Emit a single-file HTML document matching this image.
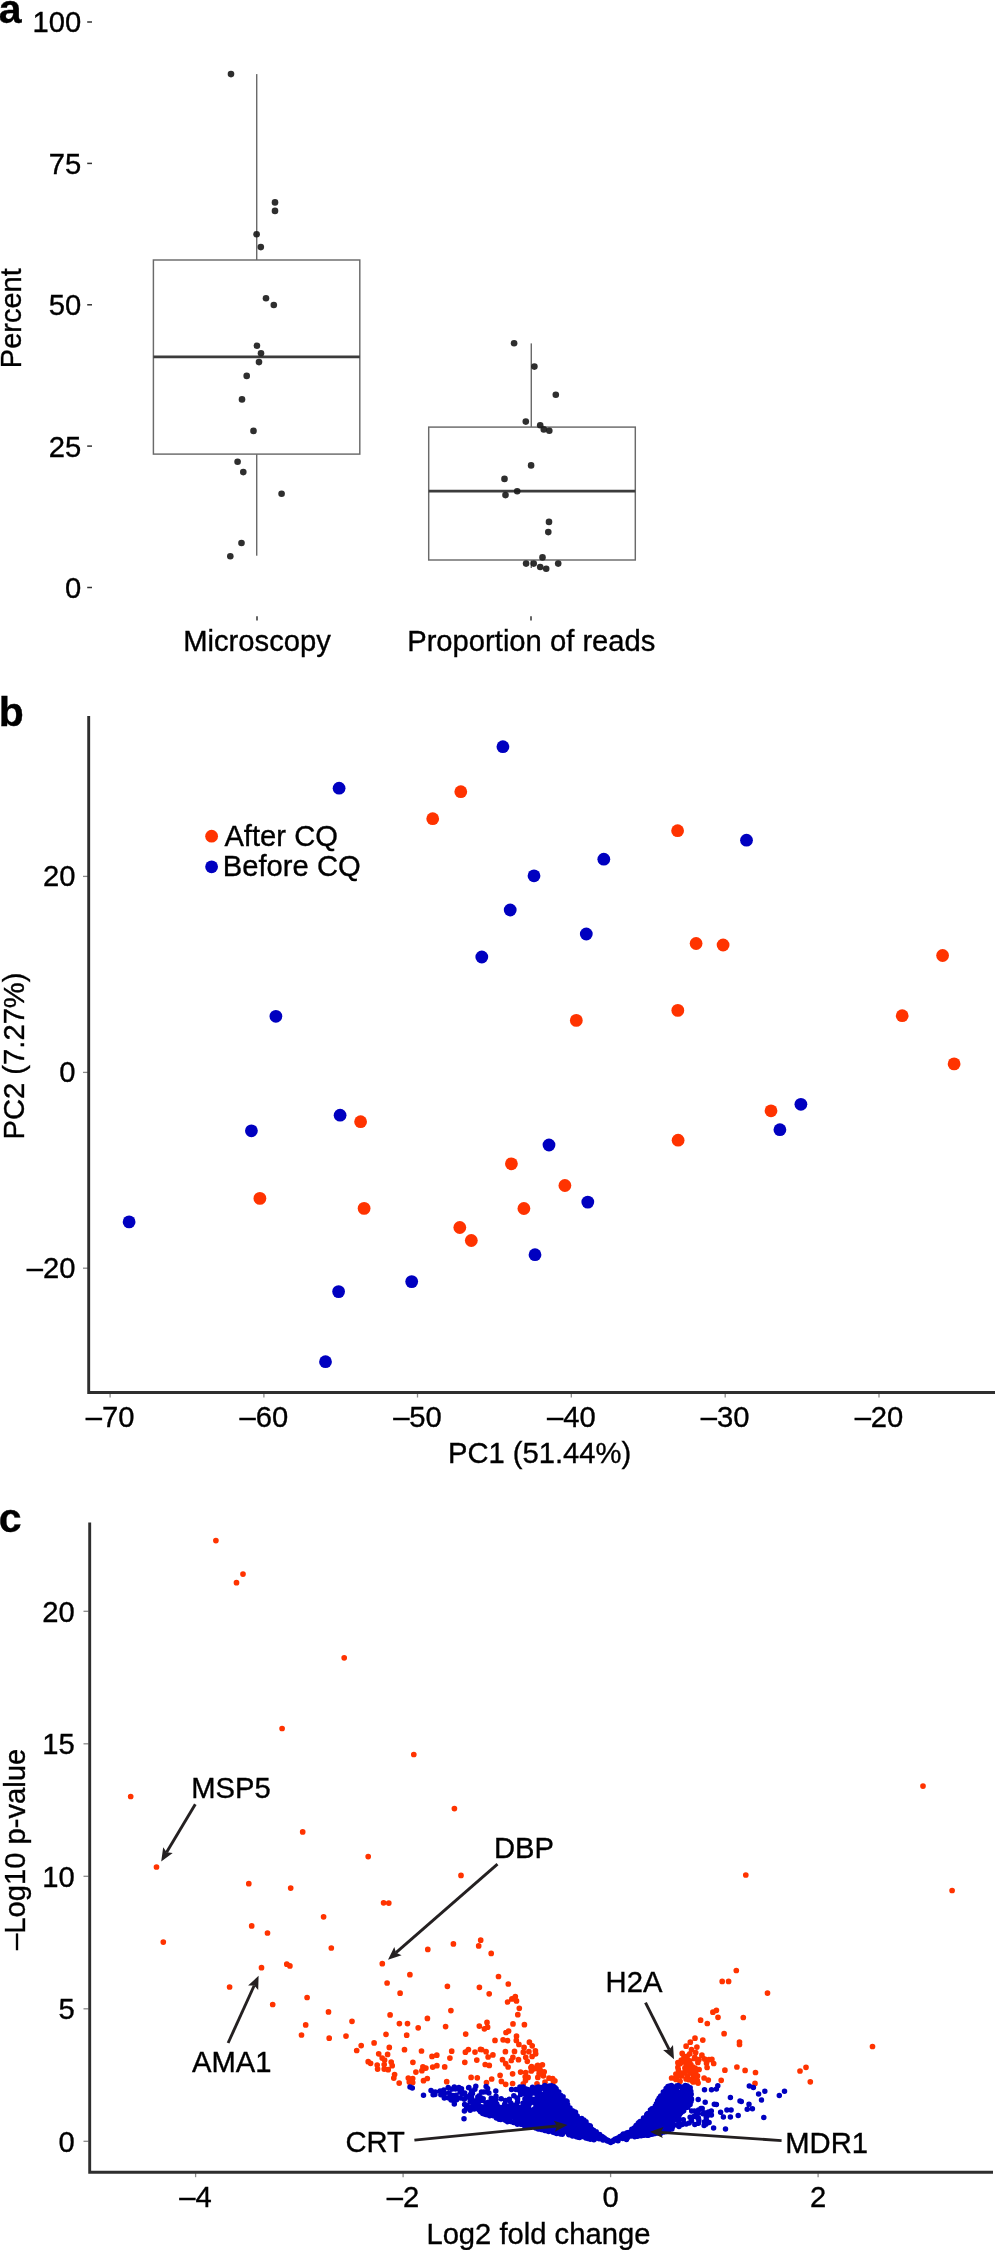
<!DOCTYPE html>
<html><head><meta charset="utf-8"><title>Figure</title>
<style>html,body{margin:0;padding:0;background:#fff}svg{display:block;will-change:transform}text{font-family:"Liberation Sans",sans-serif;fill:#000;stroke:#000;stroke-width:0.35px}</style>
</head><body>
<svg width="998" height="2250" viewBox="0 0 998 2250">
<rect width="998" height="2250" fill="#fff"/>
<text x="-1.3" y="22.9" font-size="41" font-weight="bold">a</text>
<text x="-1.3" y="726.1" font-size="41" font-weight="bold">b</text>
<text x="-1.3" y="1531.8" font-size="41" font-weight="bold">c</text>
<g id="panelA">
<line x1="87.2" x2="92" y1="22.0" y2="22.0" stroke="#333" stroke-width="1.5"/>
<text x="81.3" y="32.4" font-size="29.2" text-anchor="end">100</text>
<line x1="87.2" x2="92" y1="163.4" y2="163.4" stroke="#333" stroke-width="1.5"/>
<text x="81.3" y="173.8" font-size="29.2" text-anchor="end">75</text>
<line x1="87.2" x2="92" y1="304.8" y2="304.8" stroke="#333" stroke-width="1.5"/>
<text x="81.3" y="315.1" font-size="29.2" text-anchor="end">50</text>
<line x1="87.2" x2="92" y1="446.1" y2="446.1" stroke="#333" stroke-width="1.5"/>
<text x="81.3" y="456.5" font-size="29.2" text-anchor="end">25</text>
<line x1="87.2" x2="92" y1="587.5" y2="587.5" stroke="#333" stroke-width="1.5"/>
<text x="81.3" y="597.9" font-size="29.2" text-anchor="end">0</text>
<line x1="257" x2="257" y1="616.2" y2="620.4" stroke="#333" stroke-width="1.5"/>
<line x1="531" x2="531" y1="616.2" y2="620.4" stroke="#333" stroke-width="1.5"/>
<text x="257" y="651.3" font-size="29.2" text-anchor="middle">Microscopy</text>
<text x="531.3" y="651.3" font-size="29.2" text-anchor="middle">Proportion of reads</text>
<text x="21.2" y="318.2" font-size="29" text-anchor="middle" transform="rotate(-90 21.2 318.2)">Percent</text>
<line x1="256.7" x2="256.7" y1="74.1" y2="260" stroke="#6a6a6a" stroke-width="1.45"/>
<line x1="256.7" x2="256.7" y1="454.1" y2="555.7" stroke="#6a6a6a" stroke-width="1.45"/>
<rect x="153.4" y="260" width="206.4" height="194.1" fill="#fff" stroke="#6a6a6a" stroke-width="1.45"/>
<line x1="153.4" x2="359.8" y1="356.9" y2="356.9" stroke="#3c3c3c" stroke-width="2.8"/>
<line x1="531.3" x2="531.3" y1="343.4" y2="427.1" stroke="#6a6a6a" stroke-width="1.45"/>
<line x1="531.3" x2="531.3" y1="560" y2="568" stroke="#6a6a6a" stroke-width="1.45"/>
<rect x="428.7" y="427.1" width="206.6" height="132.9" fill="#fff" stroke="#6a6a6a" stroke-width="1.45"/>
<line x1="428.7" x2="635.3" y1="491.2" y2="491.2" stroke="#3c3c3c" stroke-width="2.8"/>
<g fill="#1c1c1c" fill-opacity="0.92">
<circle cx="231" cy="74.1" r="3.3"/>
<circle cx="275" cy="202.4" r="3.3"/>
<circle cx="275" cy="210.9" r="3.3"/>
<circle cx="256.6" cy="234.2" r="3.3"/>
<circle cx="260.8" cy="247.1" r="3.3"/>
<circle cx="266" cy="298.3" r="3.3"/>
<circle cx="273.8" cy="305" r="3.3"/>
<circle cx="256.9" cy="345.7" r="3.3"/>
<circle cx="261" cy="353.2" r="3.3"/>
<circle cx="259" cy="362.1" r="3.3"/>
<circle cx="246.7" cy="375.9" r="3.3"/>
<circle cx="242" cy="399.4" r="3.3"/>
<circle cx="253.5" cy="430.9" r="3.3"/>
<circle cx="237.6" cy="461.7" r="3.3"/>
<circle cx="243.3" cy="472.1" r="3.3"/>
<circle cx="281.6" cy="493.7" r="3.3"/>
<circle cx="241.5" cy="543" r="3.3"/>
<circle cx="230.3" cy="556.2" r="3.3"/>
<circle cx="514.1" cy="343.2" r="3.3"/>
<circle cx="534.4" cy="366.6" r="3.3"/>
<circle cx="555.8" cy="394.8" r="3.3"/>
<circle cx="525.8" cy="421.6" r="3.3"/>
<circle cx="540.2" cy="425.3" r="3.3"/>
<circle cx="543.8" cy="429.4" r="3.3"/>
<circle cx="549.3" cy="430.7" r="3.3"/>
<circle cx="531.1" cy="465.4" r="3.3"/>
<circle cx="504.5" cy="478.9" r="3.3"/>
<circle cx="517.2" cy="491.2" r="3.3"/>
<circle cx="505.5" cy="495.1" r="3.3"/>
<circle cx="549" cy="521.9" r="3.3"/>
<circle cx="548.3" cy="532.1" r="3.3"/>
<circle cx="542.5" cy="557.4" r="3.3"/>
<circle cx="526.1" cy="563.6" r="3.3"/>
<circle cx="533.7" cy="563.6" r="3.3"/>
<circle cx="540.2" cy="567" r="3.3"/>
<circle cx="546.2" cy="568.8" r="3.3"/>
<circle cx="558.2" cy="563.6" r="3.3"/>
</g>
</g>
<g id="panelB">
<line x1="83" x2="88" y1="876.4" y2="876.4" stroke="#8a8a8a" stroke-width="1.3"/>
<text x="75.4" y="885.7" font-size="29.2" text-anchor="end">20</text>
<line x1="83" x2="88" y1="1072.4" y2="1072.4" stroke="#8a8a8a" stroke-width="1.3"/>
<text x="75.4" y="1081.7" font-size="29.2" text-anchor="end">0</text>
<line x1="83" x2="88" y1="1268.2" y2="1268.2" stroke="#8a8a8a" stroke-width="1.3"/>
<text x="75.4" y="1277.5" font-size="29.2" text-anchor="end">–20</text>
<line x1="110.1" x2="110.1" y1="1393.5" y2="1397.5" stroke="#8a8a8a" stroke-width="1.3"/>
<text x="110.1" y="1426.5" font-size="29.2" text-anchor="middle">–70</text>
<line x1="263.9" x2="263.9" y1="1393.5" y2="1397.5" stroke="#8a8a8a" stroke-width="1.3"/>
<text x="263.9" y="1426.5" font-size="29.2" text-anchor="middle">–60</text>
<line x1="417.5" x2="417.5" y1="1393.5" y2="1397.5" stroke="#8a8a8a" stroke-width="1.3"/>
<text x="417.5" y="1426.5" font-size="29.2" text-anchor="middle">–50</text>
<line x1="571.3" x2="571.3" y1="1393.5" y2="1397.5" stroke="#8a8a8a" stroke-width="1.3"/>
<text x="571.3" y="1426.5" font-size="29.2" text-anchor="middle">–40</text>
<line x1="725.2" x2="725.2" y1="1393.5" y2="1397.5" stroke="#8a8a8a" stroke-width="1.3"/>
<text x="725.2" y="1426.5" font-size="29.2" text-anchor="middle">–30</text>
<line x1="879.0" x2="879.0" y1="1393.5" y2="1397.5" stroke="#8a8a8a" stroke-width="1.3"/>
<text x="879.0" y="1426.5" font-size="29.2" text-anchor="middle">–20</text>
<path d="M88.7 716V1392.5H995" fill="none" stroke="#2e2e2e" stroke-width="2.9"/>
<text x="539.6" y="1463.3" font-size="29.2" text-anchor="middle">PC1 (51.44%)</text>
<text x="23.5" y="1056" font-size="29.2" text-anchor="middle" transform="rotate(-90 23.5 1056)">PC2 (7.27%)</text>
<g fill="#0000c0">
<circle cx="502.9" cy="746.7" r="6.4"/>
<circle cx="339.1" cy="788.2" r="6.4"/>
<circle cx="534" cy="875.8" r="6.4"/>
<circle cx="510.2" cy="910" r="6.4"/>
<circle cx="481.8" cy="957" r="6.4"/>
<circle cx="275.9" cy="1016.3" r="6.4"/>
<circle cx="746.5" cy="840.2" r="6.4"/>
<circle cx="603.8" cy="859.2" r="6.4"/>
<circle cx="586.3" cy="934" r="6.4"/>
<circle cx="340.1" cy="1115.2" r="6.4"/>
<circle cx="251.4" cy="1130.8" r="6.4"/>
<circle cx="549" cy="1145" r="6.4"/>
<circle cx="129.1" cy="1221.9" r="6.4"/>
<circle cx="535" cy="1254.7" r="6.4"/>
<circle cx="411.7" cy="1281.6" r="6.4"/>
<circle cx="338.6" cy="1291.6" r="6.4"/>
<circle cx="325.5" cy="1361.7" r="6.4"/>
<circle cx="800.9" cy="1104.3" r="6.4"/>
<circle cx="779.9" cy="1129.7" r="6.4"/>
<circle cx="587.8" cy="1202.1" r="6.4"/>
<circle cx="211.6" cy="866.8" r="6.4"/>
</g>
<g fill="#ff3300">
<circle cx="460.8" cy="791.7" r="6.4"/>
<circle cx="432.7" cy="818.7" r="6.4"/>
<circle cx="677.6" cy="830.7" r="6.4"/>
<circle cx="696.1" cy="943.5" r="6.4"/>
<circle cx="723.1" cy="945" r="6.4"/>
<circle cx="942.6" cy="955.5" r="6.4"/>
<circle cx="576.3" cy="1020.4" r="6.4"/>
<circle cx="677.8" cy="1010.4" r="6.4"/>
<circle cx="902.2" cy="1015.7" r="6.4"/>
<circle cx="360.6" cy="1121.7" r="6.4"/>
<circle cx="511.4" cy="1163.8" r="6.4"/>
<circle cx="564.9" cy="1185.5" r="6.4"/>
<circle cx="259.9" cy="1198.4" r="6.4"/>
<circle cx="364.1" cy="1208.4" r="6.4"/>
<circle cx="523.9" cy="1208.5" r="6.4"/>
<circle cx="459.8" cy="1227.5" r="6.4"/>
<circle cx="471.3" cy="1240.5" r="6.4"/>
<circle cx="954.1" cy="1063.9" r="6.4"/>
<circle cx="771" cy="1110.8" r="6.4"/>
<circle cx="678.1" cy="1140.2" r="6.4"/>
<circle cx="211.6" cy="836.2" r="6.4"/>
</g>
<text x="224.4" y="845.6" font-size="29.2">After CQ</text>
<text x="222.8" y="876.2" font-size="29.2">Before CQ</text>
</g>
<g id="panelC">
<line x1="83.5" x2="88.5" y1="1611.3" y2="1611.3" stroke="#8a8a8a" stroke-width="1.3"/>
<text x="74.8" y="1621.7" font-size="29.2" text-anchor="end">20</text>
<line x1="83.5" x2="88.5" y1="1743.8" y2="1743.8" stroke="#8a8a8a" stroke-width="1.3"/>
<text x="74.8" y="1754.2" font-size="29.2" text-anchor="end">15</text>
<line x1="83.5" x2="88.5" y1="1876.3" y2="1876.3" stroke="#8a8a8a" stroke-width="1.3"/>
<text x="74.8" y="1886.7" font-size="29.2" text-anchor="end">10</text>
<line x1="83.5" x2="88.5" y1="2008.8" y2="2008.8" stroke="#8a8a8a" stroke-width="1.3"/>
<text x="74.8" y="2019.2" font-size="29.2" text-anchor="end">5</text>
<line x1="83.5" x2="88.5" y1="2141.3" y2="2141.3" stroke="#8a8a8a" stroke-width="1.3"/>
<text x="74.8" y="2151.7" font-size="29.2" text-anchor="end">0</text>
<line x1="195.6" x2="195.6" y1="2173.2" y2="2177.2" stroke="#8a8a8a" stroke-width="1.3"/>
<text x="195.6" y="2207.2" font-size="29.2" text-anchor="middle">–4</text>
<line x1="403.1" x2="403.1" y1="2173.2" y2="2177.2" stroke="#8a8a8a" stroke-width="1.3"/>
<text x="403.1" y="2207.2" font-size="29.2" text-anchor="middle">–2</text>
<line x1="610.6" x2="610.6" y1="2173.2" y2="2177.2" stroke="#8a8a8a" stroke-width="1.3"/>
<text x="610.6" y="2207.2" font-size="29.2" text-anchor="middle">0</text>
<line x1="818.1" x2="818.1" y1="2173.2" y2="2177.2" stroke="#8a8a8a" stroke-width="1.3"/>
<text x="818.1" y="2207.2" font-size="29.2" text-anchor="middle">2</text>
<text x="538.4" y="2244.2" font-size="29.2" text-anchor="middle">Log2 fold change</text>
<text x="25" y="1849.4" font-size="29.2" text-anchor="middle" transform="rotate(-90 25 1849.4)">–Log10 p-value</text>
<path d="M215.9 1540.6h0M243.0 1574.1h0M236.5 1582.7h0M344.2 1657.8h0M282.1 1728.5h0M413.8 1754.5h0M130.7 1796.5h0M454.4 1808.6h0M302.7 1831.9h0M368.2 1856.6h0M156.5 1867.0h0M461.0 1875.4h0M248.8 1883.7h0M290.7 1888.1h0M923.0 1786.1h0M745.8 1875.0h0M952.1 1890.5h0M383.6 1902.8h0M388.8 1903.1h0M323.6 1916.8h0M251.7 1925.9h0M267.5 1933.0h0M163.3 1942.1h0M331.3 1948.0h0M427.8 1949.4h0M382.3 1963.7h0M286.8 1964.2h0M289.9 1965.9h0M261.5 1967.7h0M409.9 1974.7h0M387.1 1983.0h0M229.6 1987.0h0M400.1 1993.2h0M307.1 1997.5h0M272.7 2004.5h0M328.5 2011.9h0M390.1 2014.9h0M427.4 2018.4h0M352.0 2021.3h0M399.4 2023.6h0M407.5 2023.6h0M305.7 2024.9h0M418.2 2027.8h0M386.0 2034.3h0M406.7 2035.2h0M301.5 2035.0h0M346.0 2036.1h0M329.2 2038.2h0M374.1 2042.9h0M361.2 2045.6h0M389.3 2047.4h0M356.7 2050.5h0M404.5 2049.7h0M421.5 2051.0h0M378.7 2053.8h0M387.6 2054.4h0M432.0 2056.4h0M436.8 2055.2h0M480.7 1940.2h0M478.7 1945.9h0M453.4 1943.9h0M491.2 1953.4h0M498.5 1976.5h0M508.3 1984.0h0M447.4 1986.3h0M479.4 1987.3h0M489.2 1993.8h0M515.3 1996.5h0M511.9 1998.9h0M507.6 2002.0h0M516.5 2000.9h0M519.3 2008.3h0M450.9 2010.6h0M517.8 2014.7h0M487.0 2022.4h0M479.3 2026.1h0M513.0 2023.9h0M524.4 2024.7h0M445.6 2026.6h0M484.4 2028.8h0M487.6 2027.2h0M506.0 2032.5h0M508.6 2031.2h0M465.7 2034.1h0M516.5 2036.2h0M495.0 2040.4h0M503.1 2039.8h0M507.6 2040.6h0M516.3 2040.4h0M529.4 2042.2h0M518.9 2044.4h0M532.2 2045.8h0M524.1 2047.4h0M451.7 2051.2h0M468.4 2049.6h0M465.4 2052.2h0M475.0 2052.1h0M480.5 2049.4h0M449.9 2058.1h0M476.8 2060.1h0M382.2 2058.1h0M384.6 2060.1h0M368.2 2061.7h0M370.6 2063.3h0M391.2 2062.1h0M412.9 2062.3h0M464.8 2062.3h0M377.2 2065.1h0M384.2 2064.5h0M392.2 2065.7h0M436.9 2065.7h0M432.7 2067.1h0M444.7 2066.9h0M422.9 2066.9h0M425.9 2068.1h0M377.6 2069.1h0M384.2 2069.1h0M388.2 2069.7h0M421.9 2070.7h0M415.9 2072.1h0M394.6 2074.5h0M393.8 2078.1h0M408.3 2078.1h0M412.7 2078.5h0M427.3 2078.5h0M423.5 2080.7h0M471.1 2077.4h0M477.3 2077.8h0M399.2 2083.1h0M409.3 2082.1h0M412.7 2082.5h0M446.7 2081.7h0M486.1 2051.7h0M505.4 2051.7h0M514.5 2051.4h0M523.3 2052.2h0M528.9 2051.7h0M535.4 2050.9h0M492.9 2054.9h0M488.1 2057.0h0M535.7 2053.8h0M532.1 2056.5h0M525.7 2057.3h0M512.9 2057.3h0M511.3 2060.5h0M518.5 2059.7h0M527.3 2061.3h0M502.5 2059.7h0M505.7 2063.7h0M508.1 2067.0h0M485.2 2064.5h0M489.3 2065.4h0M537.8 2065.4h0M534.5 2068.6h0M531.3 2071.0h0M520.6 2072.1h0M525.7 2072.6h0M540.2 2070.2h0M544.2 2071.8h0M512.6 2073.8h0M500.1 2075.3h0M528.1 2077.4h0M537.8 2077.4h0M543.4 2075.8h0M549.0 2078.2h0M552.7 2078.5h0M491.7 2079.0h0M486.5 2082.5h0M501.4 2081.4h0M505.7 2084.3h0M512.6 2083.5h0M523.3 2083.8h0M537.0 2083.8h0M545.0 2082.2h0M481.6 2049.6h0M736.3 1970.5h0M722.2 1981.4h0M728.6 1981.4h0M767.5 1993.1h0M716.4 2010.3h0M712.9 2012.2h0M718.0 2017.3h0M743.3 2017.5h0M700.6 2020.2h0M707.3 2023.5h0M724.1 2033.7h0M695.0 2038.2h0M702.8 2040.1h0M739.5 2042.0h0M739.5 2044.5h0M872.5 2046.5h0M806.0 2067.3h0M800.0 2071.0h0M810.3 2081.8h0M736.9 2067.0h0M745.1 2070.4h0M724.9 2070.2h0M755.5 2072.5h0M755.0 2083.4h0M721.2 2080.3h0M690.3 2042.2h0M686.1 2046.2h0M696.9 2047.1h0M691.5 2049.5h0M682.2 2053.4h0M695.7 2052.5h0M701.9 2055.2h0M687.3 2056.1h0M694.5 2058.5h0M704.7 2059.1h0M708.9 2059.7h0M711.9 2059.4h0M677.9 2062.7h0M682.5 2061.5h0M689.7 2060.9h0M686.1 2063.9h0M690.9 2064.5h0M706.5 2063.3h0M713.7 2063.5h0M707.1 2067.5h0M695.1 2068.1h0M678.3 2069.3h0M684.9 2068.1h0M688.5 2069.3h0M678.9 2072.9h0M683.7 2072.9h0M690.9 2072.9h0M695.7 2072.3h0M681.3 2075.9h0M687.3 2075.9h0M693.3 2076.5h0M697.5 2075.9h0M671.6 2078.0h0M675.9 2079.5h0M680.1 2081.3h0M686.1 2078.9h0M691.5 2079.5h0M696.3 2080.1h0M704.1 2078.0h0M708.3 2080.1h0M698.1 2083.1h0M693.3 2081.9h0M553.4 2081.5h0M542.4 2064.8h0M538.5 2069.2h0M532.7 2069.2h0M537.3 2065.7h0M531.5 2069.8h0M525.2 2076.8h0M554.9 2080.8h0M539.1 2073.7h0M531.6 2066.6h0M525.5 2080.4h0M530.9 2067.6h0M685.4 2071.4h0M677.9 2067.4h0M694.8 2057.3h0M685.8 2063.2h0M699.0 2059.6h0M693.1 2067.1h0M695.1 2079.4h0M689.8 2053.8h0M680.3 2063.6h0M676.8 2077.8h0M692.7 2068.1h0M699.1 2069.5h0M675.9 2074.0h0M681.3 2060.1h0M693.9 2074.3h0M684.0 2057.2h0M697.9 2062.4h0M692.3 2081.0h0M697.3 2080.7h0M676.7 2074.8h0M681.5 2073.2h0M686.6 2060.4h0M685.5 2068.8h0M686.0 2066.7h0M688.4 2079.6h0" fill="none" stroke="#ff3300" stroke-width="5.7" stroke-linecap="round"/>
<path d="M749.3 2086.1h0M753.4 2087.4h0M764.8 2091.2h0M758.6 2094.1h0M784.5 2091.2h0M779.3 2095.4h0M761.5 2100.0h0M741.3 2101.6h0M749.0 2104.2h0M747.2 2109.3h0M752.4 2108.8h0M763.8 2117.4h0M412.3 2088.1h0M410.0 2087.0h0M423.5 2095.3h0M464.0 2118.8h0M513.9 2114.2h0M555.2 2087.8h0M541.1 2094.3h0M525.3 2088.8h0M523.6 2121.8h0M549.6 2111.4h0M581.8 2125.6h0M471.1 2101.8h0M568.4 2108.1h0M450.9 2099.4h0M489.1 2102.2h0M538.9 2109.3h0M537.6 2102.1h0M584.0 2120.3h0M496.4 2117.9h0M554.8 2118.6h0M544.8 2112.8h0M563.1 2125.4h0M572.8 2134.4h0M561.5 2107.5h0M534.8 2110.4h0M549.2 2110.5h0M595.2 2135.4h0M535.2 2103.4h0M583.4 2125.8h0M542.9 2113.5h0M511.5 2089.6h0M558.0 2117.8h0M472.5 2093.4h0M543.6 2110.8h0M548.3 2131.3h0M553.6 2096.7h0M555.9 2115.0h0M566.6 2107.8h0M513.6 2122.4h0M560.4 2131.9h0M559.6 2097.5h0M607.3 2140.9h0M594.5 2134.0h0M560.7 2133.1h0M545.3 2115.1h0M582.7 2136.5h0M524.5 2117.9h0M526.7 2114.0h0M523.1 2108.2h0M531.5 2113.3h0M577.4 2136.6h0M508.7 2106.7h0M525.5 2094.5h0M544.0 2121.7h0M583.8 2120.1h0M576.4 2136.7h0M553.7 2086.4h0M520.7 2124.3h0M442.3 2091.4h0M529.5 2114.6h0M488.8 2111.9h0M507.5 2119.5h0M556.6 2133.4h0M574.8 2125.4h0M543.6 2108.4h0M570.5 2131.7h0M592.0 2135.4h0M568.6 2128.9h0M491.5 2112.0h0M550.3 2104.6h0M532.8 2115.7h0M556.6 2128.7h0M563.4 2100.0h0M529.2 2114.2h0M505.8 2115.3h0M577.6 2119.7h0M542.7 2111.3h0M550.6 2111.3h0M535.1 2109.2h0M571.7 2120.9h0M531.9 2119.0h0M595.5 2135.3h0M506.6 2120.8h0M527.7 2089.5h0M552.1 2116.7h0M497.2 2112.6h0M542.6 2129.1h0M517.4 2124.3h0M560.9 2124.8h0M599.9 2137.3h0M495.1 2106.2h0M501.2 2107.4h0M528.2 2117.6h0M547.6 2131.1h0M547.2 2099.3h0M568.3 2115.0h0M551.4 2113.4h0M560.2 2125.6h0M575.6 2132.8h0M524.5 2125.7h0M505.9 2109.3h0M537.3 2098.1h0M517.0 2098.0h0M499.3 2115.4h0M548.7 2098.9h0M558.8 2119.8h0M582.9 2132.1h0M486.0 2103.1h0M579.9 2122.5h0M527.4 2102.3h0M531.5 2126.5h0M557.9 2095.6h0M581.2 2119.1h0M470.6 2094.3h0M506.9 2114.5h0M568.5 2132.0h0M489.6 2108.8h0M549.2 2120.0h0M579.1 2120.1h0M559.2 2132.9h0M534.0 2125.0h0M528.0 2117.2h0M528.8 2089.7h0M563.2 2107.1h0M538.3 2112.1h0M542.6 2124.6h0M565.8 2113.0h0M581.5 2134.0h0M524.9 2115.2h0M537.8 2128.1h0M537.1 2089.4h0M510.5 2113.9h0M524.9 2099.0h0M501.2 2098.8h0M587.2 2125.9h0M550.0 2130.3h0M536.4 2098.4h0M509.3 2115.4h0M571.5 2114.8h0M582.8 2124.3h0M569.7 2130.1h0M559.1 2117.9h0M462.1 2094.0h0M519.4 2110.1h0M532.6 2116.3h0M542.1 2115.2h0M554.7 2132.6h0M483.5 2109.5h0M567.9 2127.1h0M547.3 2088.7h0M529.1 2094.7h0M466.6 2107.2h0M554.8 2106.0h0M559.2 2100.7h0M537.4 2087.2h0M506.4 2116.3h0M557.6 2100.2h0M550.3 2093.8h0M468.6 2087.7h0M543.8 2117.5h0M489.0 2113.6h0M556.7 2116.8h0M535.7 2112.0h0M569.4 2121.0h0M504.0 2109.0h0M579.9 2135.4h0M552.8 2098.7h0M528.1 2107.8h0M519.0 2122.3h0M542.7 2117.3h0M555.6 2124.4h0M542.2 2113.3h0M526.3 2098.9h0M452.3 2089.0h0M569.5 2112.7h0M586.6 2134.8h0M559.3 2099.7h0M582.3 2132.5h0M471.4 2095.9h0M554.2 2109.2h0M558.8 2092.1h0M517.1 2106.6h0M574.6 2133.0h0M456.1 2095.3h0M495.8 2100.1h0M548.6 2120.8h0M599.7 2134.5h0M560.9 2095.4h0M460.1 2092.1h0M485.7 2114.6h0M576.4 2130.4h0M579.6 2129.0h0M548.6 2131.5h0M545.2 2105.5h0M564.2 2116.4h0M493.0 2109.9h0M520.6 2108.3h0M590.4 2134.0h0M521.0 2117.6h0M581.3 2124.6h0M550.1 2109.2h0M533.3 2114.7h0M543.2 2110.8h0M579.8 2130.7h0M587.2 2125.8h0M572.2 2113.3h0M574.5 2134.0h0M495.8 2091.1h0M588.4 2126.7h0M550.7 2109.9h0M555.5 2095.7h0M555.3 2111.9h0M540.1 2105.7h0M563.0 2105.9h0M503.7 2111.3h0M557.1 2098.8h0M552.2 2111.2h0M538.5 2110.9h0M555.5 2123.6h0M578.3 2133.7h0M550.8 2104.9h0M544.3 2112.0h0M547.3 2125.2h0M542.5 2127.5h0M576.6 2126.9h0M600.7 2136.3h0M493.2 2115.8h0M474.2 2108.9h0M524.7 2108.5h0M577.9 2127.1h0M489.1 2113.2h0M590.3 2139.2h0M528.8 2108.1h0M486.5 2112.9h0M565.4 2113.1h0M537.9 2106.4h0M539.9 2118.9h0M572.4 2121.9h0M542.8 2116.8h0M566.0 2118.3h0M563.1 2109.2h0M498.0 2110.8h0M550.3 2116.5h0M554.5 2107.4h0M535.3 2112.7h0M533.7 2100.0h0M559.4 2110.0h0M556.1 2117.7h0M568.1 2131.2h0M559.8 2101.9h0M561.3 2100.4h0M475.5 2102.0h0M478.9 2101.6h0M526.4 2122.9h0M521.2 2117.5h0M548.6 2089.5h0M584.6 2130.0h0M493.7 2113.7h0M557.3 2109.1h0M531.3 2093.1h0M601.7 2138.0h0M518.3 2118.9h0M540.6 2120.2h0M554.3 2114.9h0M566.8 2131.3h0M551.7 2130.3h0M563.9 2112.4h0M603.6 2138.3h0M589.5 2126.7h0M511.8 2106.5h0M527.5 2117.6h0M444.3 2098.1h0M567.8 2108.2h0M574.4 2113.8h0M513.8 2095.8h0M542.6 2103.4h0M505.1 2116.1h0M584.1 2135.5h0M522.7 2106.9h0M544.1 2111.7h0M519.7 2112.8h0M518.3 2112.8h0M580.7 2131.0h0M574.1 2125.8h0M568.9 2130.0h0M545.4 2113.3h0M548.0 2129.4h0M523.0 2103.3h0M526.6 2112.3h0M473.3 2104.0h0M545.5 2108.9h0M553.8 2128.7h0M561.3 2103.5h0M546.9 2125.5h0M555.4 2110.3h0M553.0 2120.4h0M558.3 2092.7h0M500.4 2112.0h0M517.7 2118.8h0M521.7 2108.7h0M573.0 2125.6h0M495.8 2110.2h0M563.8 2102.2h0M550.8 2110.1h0M536.5 2125.8h0M564.9 2118.3h0M557.4 2117.3h0M525.3 2113.5h0M549.8 2101.8h0M554.9 2124.6h0M548.7 2093.8h0M587.7 2138.4h0M461.8 2092.1h0M573.5 2127.4h0M557.0 2125.1h0M576.8 2117.8h0M491.4 2110.4h0M579.6 2137.4h0M528.0 2118.5h0M555.6 2103.7h0M482.5 2100.2h0M514.5 2114.5h0M590.3 2128.2h0M549.1 2124.7h0M504.4 2107.6h0M514.5 2115.4h0M572.5 2136.1h0M542.0 2101.6h0M587.0 2132.9h0M554.9 2127.7h0M528.0 2114.6h0M567.7 2119.0h0M544.0 2086.4h0M548.6 2097.6h0M567.6 2104.4h0M560.8 2128.5h0M455.0 2096.9h0M551.8 2089.1h0M550.9 2121.1h0M559.6 2113.4h0M518.7 2107.2h0M496.8 2104.1h0M531.9 2099.0h0M582.5 2120.6h0M567.5 2126.4h0M458.9 2087.5h0M545.6 2094.9h0M526.6 2106.7h0M532.5 2114.3h0M464.6 2104.5h0M557.9 2106.5h0M571.7 2125.1h0M581.7 2122.7h0M560.5 2134.1h0M541.3 2094.6h0M533.3 2123.7h0M440.1 2091.0h0M553.5 2116.5h0M434.9 2094.6h0M530.0 2118.5h0M544.2 2112.0h0M521.9 2114.4h0M517.2 2108.0h0M538.7 2128.8h0M551.9 2097.5h0M593.3 2130.6h0M567.2 2104.5h0M555.8 2126.7h0M537.9 2120.2h0M574.5 2123.8h0M475.0 2103.3h0M484.4 2106.9h0M493.5 2112.3h0M482.2 2109.5h0M538.0 2103.5h0M546.6 2112.3h0M550.9 2094.4h0M554.4 2117.8h0M509.1 2111.8h0M568.9 2119.0h0M504.4 2115.0h0M526.1 2118.4h0M566.6 2131.9h0M560.0 2129.5h0M512.3 2112.0h0M558.5 2103.9h0M461.5 2091.4h0M560.8 2130.3h0M563.1 2102.6h0M603.4 2138.7h0M552.9 2097.0h0M491.2 2098.3h0M528.5 2108.1h0M490.4 2113.3h0M483.5 2091.9h0M494.8 2110.6h0M530.4 2113.4h0M565.7 2114.0h0M581.0 2136.2h0M551.7 2111.6h0M534.5 2115.2h0M565.8 2120.4h0M503.9 2112.3h0M598.4 2136.9h0M546.1 2119.8h0M562.0 2133.2h0M568.6 2114.3h0M524.7 2123.0h0M601.7 2138.0h0M583.3 2132.0h0M581.0 2133.0h0M552.0 2123.2h0M560.7 2131.0h0M528.9 2091.6h0M539.9 2127.0h0M493.7 2104.7h0M549.9 2088.5h0M540.5 2106.0h0M580.1 2120.9h0M569.1 2125.2h0M586.6 2127.5h0M532.3 2120.9h0M590.7 2137.7h0M535.0 2089.7h0M559.5 2115.3h0M590.3 2131.9h0M556.7 2104.1h0M534.4 2108.9h0M496.0 2096.2h0M440.8 2094.7h0M540.5 2120.7h0M483.2 2098.7h0M526.0 2091.2h0M580.5 2126.7h0M595.5 2137.8h0M548.8 2090.9h0M526.8 2126.0h0M555.4 2098.1h0M539.4 2112.5h0M546.0 2093.2h0M537.2 2122.0h0M553.1 2131.3h0M594.9 2132.8h0M589.5 2137.9h0M577.8 2127.4h0M512.4 2110.5h0M572.6 2117.8h0M440.9 2092.2h0M529.8 2094.5h0M581.7 2118.6h0M544.2 2088.1h0M467.0 2097.0h0M485.8 2091.8h0M540.2 2099.1h0M566.4 2100.9h0M542.4 2118.5h0M498.3 2117.8h0M560.1 2098.2h0M528.7 2114.8h0M529.8 2123.9h0M529.7 2098.8h0M533.7 2114.8h0M466.3 2096.4h0M538.3 2120.9h0M554.3 2097.6h0M541.2 2116.6h0M562.7 2126.3h0M542.1 2107.2h0M559.8 2120.4h0M539.0 2121.4h0M550.4 2117.2h0M551.9 2125.4h0M510.8 2121.6h0M527.2 2112.2h0M573.1 2119.4h0M547.0 2113.1h0M506.0 2119.6h0M541.9 2112.3h0M509.0 2108.2h0M524.3 2116.5h0M433.1 2094.8h0M551.6 2099.0h0M536.0 2090.6h0M554.2 2098.3h0M535.7 2128.0h0M512.0 2114.3h0M448.2 2087.4h0M527.9 2096.5h0M568.6 2110.8h0M542.3 2110.7h0M556.9 2133.0h0M568.8 2113.4h0M475.5 2108.3h0M537.8 2109.9h0M450.9 2098.0h0M549.7 2088.0h0M538.9 2115.2h0M537.6 2111.5h0M531.7 2122.1h0M579.6 2129.3h0M529.6 2099.5h0M549.3 2099.5h0M529.1 2119.9h0M544.1 2128.3h0M576.2 2126.6h0M510.8 2110.8h0M505.3 2117.0h0M578.8 2132.8h0M455.1 2100.0h0M534.8 2118.7h0M560.5 2117.7h0M552.6 2088.0h0M456.6 2099.8h0M563.2 2108.3h0M539.8 2122.8h0M589.0 2125.5h0M595.1 2138.2h0M560.6 2113.5h0M551.8 2090.6h0M481.5 2091.9h0M521.3 2115.1h0M527.3 2094.2h0M599.1 2138.7h0M538.5 2112.5h0M545.9 2110.6h0M553.1 2091.3h0M540.3 2108.6h0M507.1 2115.3h0M562.6 2129.2h0M562.3 2134.3h0M554.9 2089.9h0M518.4 2114.4h0M580.1 2122.4h0M521.7 2111.5h0M550.3 2099.7h0M547.2 2111.9h0M563.7 2102.9h0M562.2 2127.9h0M542.2 2121.6h0M584.1 2121.2h0M582.3 2125.2h0M567.2 2114.0h0M513.2 2110.7h0M572.4 2118.8h0M530.7 2126.5h0M529.6 2103.6h0M572.3 2128.2h0M480.5 2111.7h0M539.1 2116.2h0M531.2 2115.1h0M551.7 2101.1h0M563.0 2130.8h0M452.8 2095.4h0M575.7 2115.6h0M487.6 2088.4h0M443.8 2089.9h0M544.5 2117.6h0M535.5 2108.1h0M469.6 2108.7h0M545.5 2093.5h0M539.0 2099.0h0M575.7 2134.0h0M541.2 2121.0h0M471.9 2098.9h0M495.0 2103.0h0M566.0 2129.6h0M563.7 2105.4h0M576.1 2119.4h0M561.1 2124.7h0M537.3 2122.9h0M544.8 2085.5h0M541.2 2120.2h0M521.1 2114.2h0M576.9 2123.3h0M560.5 2118.7h0M540.9 2128.2h0M561.0 2101.3h0M553.8 2131.7h0M569.9 2127.2h0M572.5 2117.4h0M504.7 2104.3h0M538.0 2120.3h0M511.1 2116.3h0M515.0 2118.4h0M580.8 2134.2h0M563.0 2105.6h0M540.6 2087.6h0M563.8 2123.0h0M569.4 2116.0h0M492.8 2103.6h0M560.1 2117.6h0M557.4 2097.8h0M591.5 2129.8h0M557.7 2111.7h0M562.5 2127.3h0M503.4 2113.2h0M544.5 2109.8h0M540.5 2113.5h0M489.7 2109.9h0M530.2 2126.0h0M561.7 2105.6h0M531.2 2120.1h0M471.6 2091.2h0M569.4 2118.9h0M543.7 2104.9h0M548.3 2121.2h0M538.2 2122.6h0M536.4 2124.9h0M542.5 2107.5h0M550.8 2127.5h0M435.3 2092.0h0M492.1 2112.4h0M604.3 2138.0h0M599.3 2136.5h0M567.7 2130.1h0M587.4 2125.7h0M487.5 2102.7h0M548.7 2130.6h0M563.6 2131.9h0M583.8 2128.4h0M556.6 2116.6h0M510.0 2108.8h0M564.0 2105.7h0M549.1 2089.4h0M506.3 2111.5h0M554.7 2108.2h0M579.5 2124.1h0M520.4 2121.5h0M571.4 2134.2h0M526.1 2094.8h0M552.7 2114.7h0M519.0 2108.7h0M541.5 2114.2h0M561.9 2096.6h0M547.0 2119.0h0M594.6 2133.9h0M540.2 2114.4h0M528.0 2119.0h0M593.9 2132.7h0M521.0 2121.2h0M550.5 2090.8h0M586.0 2121.8h0M567.6 2107.6h0M596.5 2135.4h0M526.8 2115.9h0M541.3 2129.6h0M557.5 2132.4h0M545.5 2091.8h0M495.2 2104.9h0M495.3 2115.4h0M534.1 2118.0h0M561.9 2133.9h0M550.3 2106.6h0M555.8 2133.0h0M585.1 2128.6h0M558.0 2114.7h0M592.6 2133.4h0M529.2 2110.0h0M548.8 2101.2h0M486.1 2086.4h0M563.6 2105.5h0M544.1 2124.6h0M569.4 2122.2h0M529.3 2114.1h0M537.8 2127.8h0M589.7 2129.1h0M507.0 2119.4h0M528.4 2110.1h0M531.5 2115.8h0M554.3 2100.4h0M494.8 2114.3h0M527.4 2122.2h0M534.6 2115.5h0M539.1 2114.8h0M477.0 2106.9h0M560.2 2132.2h0M588.7 2130.7h0M590.4 2126.2h0M547.5 2128.8h0M528.6 2110.7h0M514.5 2112.3h0M539.0 2127.8h0M502.3 2116.6h0M548.3 2109.9h0M482.4 2107.1h0M552.6 2126.3h0M491.6 2114.7h0M560.2 2125.7h0M555.6 2113.9h0M493.2 2106.0h0M533.5 2101.7h0M555.7 2124.4h0M542.8 2098.2h0M515.2 2116.7h0M534.9 2088.9h0M594.2 2139.5h0M552.8 2092.0h0M563.0 2109.8h0M569.1 2126.5h0M560.5 2104.3h0M563.7 2130.9h0M523.1 2117.2h0M582.4 2133.5h0M557.5 2115.3h0M533.0 2090.1h0M495.9 2108.9h0M495.3 2113.0h0M577.2 2115.9h0M554.8 2106.3h0M551.8 2087.7h0M541.0 2125.8h0M521.2 2088.8h0M520.5 2113.7h0M606.6 2140.0h0M553.3 2130.8h0M498.6 2117.3h0M559.6 2097.2h0M510.2 2113.9h0M563.8 2122.4h0M532.8 2092.9h0M461.3 2091.0h0M580.9 2121.7h0M531.1 2113.6h0M531.4 2111.0h0M574.5 2121.1h0M559.9 2100.8h0M532.0 2122.6h0M553.7 2091.4h0M514.9 2115.0h0M549.2 2117.5h0M478.7 2101.2h0M554.8 2122.7h0M529.7 2125.0h0M554.9 2105.4h0M550.7 2123.7h0M528.0 2121.0h0M569.9 2122.3h0M559.3 2105.8h0M555.9 2094.7h0M568.4 2121.1h0M550.3 2128.4h0M454.2 2097.0h0M555.2 2105.7h0M557.6 2122.3h0M502.1 2117.1h0M560.0 2107.6h0M530.9 2111.2h0M582.0 2133.0h0M476.3 2100.7h0M509.0 2111.1h0M557.2 2117.8h0M449.1 2092.7h0M477.2 2102.8h0M587.7 2136.1h0M555.9 2116.3h0M575.5 2112.3h0M527.2 2109.8h0M550.1 2120.7h0M551.3 2085.7h0M555.2 2126.8h0M549.3 2086.1h0M554.3 2105.8h0M526.3 2116.0h0M483.6 2108.9h0M516.8 2117.4h0M451.1 2099.9h0M572.1 2113.9h0M565.1 2119.0h0M549.0 2102.8h0M550.8 2117.4h0M568.4 2124.7h0M554.0 2123.1h0M561.9 2116.5h0M562.6 2126.2h0M537.8 2112.4h0M528.6 2110.1h0M558.1 2132.9h0M558.0 2099.3h0M566.6 2110.4h0M494.7 2112.9h0M570.0 2108.1h0M555.2 2088.6h0M523.9 2110.4h0M517.5 2101.9h0M519.9 2087.1h0M481.4 2106.9h0M558.3 2109.0h0M536.4 2125.8h0M531.2 2124.8h0M556.8 2117.3h0M551.2 2102.9h0M551.5 2127.8h0M559.1 2119.4h0M573.7 2134.9h0M588.2 2132.1h0M594.9 2131.6h0M492.4 2099.0h0M540.4 2126.3h0M564.4 2119.7h0M524.9 2108.8h0M527.0 2123.0h0M518.7 2120.8h0M537.0 2090.8h0M562.5 2098.4h0M599.1 2135.5h0M574.0 2129.8h0M545.3 2116.2h0M537.5 2110.7h0M567.8 2122.1h0M545.0 2124.7h0M495.7 2113.5h0M554.9 2105.2h0M581.2 2128.3h0M527.4 2103.7h0M544.8 2130.4h0M514.1 2105.2h0M467.1 2105.4h0M487.7 2102.6h0M476.3 2106.3h0M594.9 2137.5h0M475.8 2086.3h0M572.5 2110.8h0M549.1 2099.9h0M562.2 2111.5h0M487.2 2114.7h0M548.8 2124.4h0M560.0 2119.6h0M528.2 2101.3h0M514.3 2115.5h0M509.2 2120.0h0M585.1 2130.1h0M556.1 2088.8h0M488.9 2092.9h0M535.1 2090.0h0M537.2 2127.5h0M608.3 2140.6h0M544.5 2101.9h0M499.0 2111.8h0M572.6 2130.5h0M534.8 2113.0h0M506.0 2115.2h0M588.9 2136.0h0M531.7 2119.0h0M529.2 2110.8h0M470.2 2110.2h0M497.8 2106.3h0M519.1 2110.1h0M531.4 2116.1h0M493.9 2112.1h0M568.5 2114.4h0M573.8 2131.0h0M570.0 2124.3h0M538.5 2100.3h0M529.9 2094.8h0M496.9 2112.3h0M536.7 2124.6h0M539.6 2092.2h0M564.1 2116.3h0M474.1 2101.1h0M529.5 2103.7h0M520.6 2108.8h0M464.7 2092.9h0M520.3 2123.5h0M562.4 2129.5h0M510.6 2112.2h0M557.3 2105.2h0M490.1 2102.2h0M484.3 2113.9h0M535.2 2110.4h0M528.9 2120.1h0M560.2 2109.7h0M562.7 2126.2h0M573.5 2127.8h0M572.1 2134.1h0M549.0 2116.0h0M570.8 2125.8h0M567.8 2129.2h0M506.7 2109.1h0M547.8 2112.9h0M507.3 2119.8h0M551.3 2093.0h0M537.0 2116.5h0M529.1 2104.2h0M566.5 2106.8h0M597.6 2137.5h0M575.5 2129.5h0M561.4 2122.8h0M541.5 2120.4h0M541.9 2112.8h0M549.9 2127.7h0M479.1 2109.9h0M561.1 2105.2h0M540.9 2120.8h0M567.8 2119.4h0M531.6 2114.8h0M487.9 2106.1h0M479.2 2095.8h0M530.3 2110.2h0M444.5 2093.2h0M494.7 2109.3h0M572.2 2121.0h0M536.2 2119.3h0M515.5 2121.9h0M565.1 2124.1h0M584.9 2132.5h0M572.2 2131.1h0M557.3 2117.1h0M563.0 2111.2h0M519.3 2117.3h0M558.7 2092.0h0M548.1 2094.8h0M562.1 2132.4h0M542.2 2119.5h0M517.6 2099.1h0M565.3 2117.8h0M464.5 2110.7h0M486.7 2105.8h0M595.0 2135.1h0M492.5 2102.3h0M538.3 2086.9h0M565.6 2122.0h0M553.4 2111.7h0M580.7 2132.5h0M547.2 2122.0h0M585.8 2138.0h0M506.7 2112.7h0M571.8 2121.2h0M507.5 2121.7h0M571.0 2121.5h0M512.1 2109.7h0M488.9 2103.4h0M518.0 2117.3h0M556.5 2114.6h0M596.2 2134.9h0M503.3 2111.2h0M477.8 2097.0h0M492.3 2106.3h0M556.5 2096.3h0M503.8 2110.6h0M523.6 2116.3h0M599.4 2138.1h0M505.4 2115.4h0M562.0 2115.8h0M491.3 2105.6h0M479.1 2106.0h0M535.7 2122.8h0M504.9 2120.1h0M572.9 2113.1h0M583.2 2129.7h0M533.1 2119.3h0M524.3 2111.6h0M516.7 2114.5h0M567.8 2123.4h0M550.3 2100.0h0M575.0 2119.8h0M499.5 2109.7h0M561.1 2126.9h0M554.9 2132.8h0M499.3 2118.1h0M532.5 2087.2h0M568.7 2134.5h0M546.2 2087.0h0M535.6 2121.8h0M575.9 2127.8h0M478.4 2107.9h0M524.4 2118.8h0M527.5 2120.3h0M563.5 2108.5h0M583.5 2132.7h0M584.6 2132.0h0M581.7 2128.4h0M593.9 2135.0h0M491.1 2113.5h0M580.3 2127.9h0M584.8 2124.8h0M541.1 2104.6h0M571.6 2113.3h0M468.9 2087.6h0M516.6 2109.7h0M482.7 2113.5h0M567.9 2106.5h0M533.8 2122.9h0M540.6 2111.0h0M586.8 2127.7h0M575.1 2112.0h0M583.8 2125.8h0M538.1 2126.5h0M536.8 2094.2h0M559.7 2099.7h0M506.1 2120.7h0M527.5 2111.6h0M464.4 2111.0h0M551.8 2102.1h0M561.4 2133.1h0M523.0 2121.6h0M506.6 2112.7h0M538.2 2128.9h0M553.0 2130.7h0M522.0 2120.1h0M558.7 2099.3h0M525.4 2113.5h0M523.0 2117.4h0M545.4 2093.3h0M524.6 2109.3h0M601.6 2138.8h0M471.6 2106.8h0M572.6 2128.9h0M517.2 2119.6h0M508.1 2119.3h0M497.1 2110.0h0M556.2 2106.8h0M539.1 2113.4h0M555.7 2098.7h0M576.8 2117.6h0M520.7 2094.4h0M578.4 2119.3h0M522.6 2091.7h0M521.3 2108.8h0M593.9 2139.7h0M540.7 2114.0h0M557.1 2113.0h0M539.0 2127.1h0M592.2 2129.4h0M469.4 2108.8h0M485.5 2112.9h0M474.9 2089.3h0M460.7 2098.1h0M534.7 2114.5h0M593.0 2130.9h0M555.9 2097.7h0M523.2 2086.9h0M507.1 2118.0h0M517.8 2114.7h0M530.2 2103.1h0M550.3 2111.9h0M514.8 2122.6h0M594.4 2137.8h0M547.1 2089.9h0M550.9 2127.6h0M528.4 2121.8h0M507.2 2106.0h0M560.6 2120.7h0M515.9 2089.6h0M554.4 2089.7h0M578.2 2137.3h0M544.9 2129.6h0M549.2 2107.1h0M590.2 2129.8h0M488.4 2114.2h0M529.9 2123.9h0M541.9 2105.7h0M454.3 2087.1h0M448.1 2097.8h0M480.5 2109.7h0M541.2 2088.6h0M553.1 2132.3h0M548.5 2123.2h0M568.7 2119.9h0M575.0 2135.8h0M569.0 2134.7h0M570.5 2132.5h0M603.4 2140.1h0M523.1 2105.5h0M562.2 2130.8h0M563.5 2100.6h0M520.2 2091.6h0M591.7 2137.8h0M532.4 2099.8h0M565.9 2105.5h0M527.9 2123.5h0M550.7 2122.8h0M545.5 2115.0h0M598.0 2137.9h0M590.0 2125.8h0M569.1 2121.8h0M557.4 2101.8h0M533.5 2126.3h0M470.2 2101.2h0M543.5 2102.8h0M489.7 2115.8h0M527.6 2124.2h0M514.7 2111.7h0M568.9 2132.7h0M558.1 2096.1h0M559.7 2113.5h0M496.0 2116.4h0M537.0 2121.2h0M543.8 2126.4h0M602.9 2139.9h0M590.1 2130.6h0M574.1 2133.1h0M492.8 2102.6h0M490.9 2106.6h0M537.2 2108.1h0M440.4 2091.4h0M455.4 2088.9h0M587.6 2137.1h0M608.1 2140.9h0M539.0 2112.5h0M577.7 2125.1h0M577.4 2133.2h0M563.1 2096.8h0M505.6 2100.5h0M509.3 2099.2h0M559.1 2115.4h0M564.3 2102.8h0M571.6 2117.2h0M559.8 2102.0h0M589.3 2138.5h0M507.7 2106.5h0M509.1 2100.5h0M442.0 2091.9h0M566.2 2108.4h0M562.2 2121.5h0M487.0 2102.7h0M575.0 2131.8h0M567.1 2117.4h0M588.6 2126.6h0M522.0 2122.1h0M531.4 2122.5h0M532.6 2121.9h0M593.8 2130.4h0M473.1 2106.2h0M537.9 2109.1h0M526.7 2089.7h0M499.0 2119.3h0M574.0 2113.1h0M565.8 2130.6h0M552.2 2129.1h0M538.2 2111.0h0M492.6 2102.1h0M573.9 2128.7h0M539.0 2093.9h0M554.7 2109.0h0M596.2 2131.8h0M454.3 2104.0h0M549.6 2090.6h0M559.8 2122.3h0M510.7 2103.0h0M556.5 2101.6h0M556.2 2123.3h0M544.1 2118.0h0M536.4 2114.9h0M523.0 2107.3h0M547.8 2093.3h0M582.0 2136.6h0M461.5 2088.8h0M545.4 2113.9h0M551.3 2117.7h0M577.4 2118.5h0M537.6 2113.0h0M481.4 2098.1h0M500.8 2119.5h0M529.9 2124.2h0M485.2 2108.6h0M555.5 2130.3h0M560.1 2118.7h0M567.1 2101.5h0M580.2 2130.9h0M567.7 2110.2h0M598.5 2135.8h0M522.9 2112.9h0M573.7 2120.5h0M522.7 2111.0h0M585.4 2136.2h0M595.3 2135.2h0M431.0 2090.6h0M552.3 2119.6h0M490.1 2109.3h0M516.3 2120.5h0M500.0 2112.8h0M536.7 2109.0h0M569.4 2109.0h0M548.9 2097.8h0M464.3 2099.2h0M517.0 2114.3h0M505.4 2109.9h0M526.8 2113.7h0M552.1 2107.1h0M574.2 2115.8h0M477.8 2100.5h0M548.6 2093.3h0M523.3 2120.7h0M531.8 2116.7h0M550.2 2086.7h0M511.3 2114.9h0M575.0 2129.4h0M525.4 2099.9h0M547.9 2109.7h0M585.8 2124.1h0M523.9 2118.9h0M573.4 2129.6h0M485.7 2109.1h0M575.6 2121.1h0M564.5 2105.7h0M588.6 2131.6h0M586.1 2123.9h0M558.2 2102.0h0M563.3 2103.1h0M598.0 2134.7h0M598.7 2134.9h0M599.3 2135.1h0M600.0 2135.2h0M600.7 2136.1h0M601.3 2136.8h0M602.0 2136.6h0M602.7 2137.0h0M603.3 2137.5h0M604.0 2138.4h0M604.7 2138.8h0M605.3 2139.3h0M606.0 2139.5h0M606.7 2139.8h0M607.3 2140.2h0M608.0 2140.6h0M608.7 2141.0h0M609.3 2141.7h0M610.0 2141.5h0M610.7 2142.5h0M611.3 2141.9h0M612.0 2141.8h0M612.7 2141.4h0M613.3 2140.5h0M614.0 2140.0h0M614.7 2140.2h0M615.3 2139.1h0M616.0 2139.1h0M616.7 2138.4h0M617.3 2138.2h0M618.0 2138.0h0M618.7 2137.7h0M619.3 2137.2h0M620.0 2136.5h0M620.7 2136.5h0M621.3 2135.9h0M622.0 2135.6h0M622.7 2135.0h0M623.3 2134.1h0M624.0 2134.4h0M651.6 2115.7h0M653.3 2117.3h0M649.7 2125.3h0M666.5 2131.4h0M684.5 2103.3h0M672.3 2093.6h0M643.2 2127.3h0M672.3 2091.8h0M675.4 2105.3h0M683.1 2111.2h0M664.0 2110.2h0M658.5 2106.2h0M631.8 2129.2h0M677.1 2109.1h0M659.9 2111.2h0M626.3 2135.1h0M655.4 2110.7h0M647.1 2116.4h0M677.5 2096.0h0M648.3 2120.0h0M662.4 2124.5h0M660.8 2113.6h0M680.5 2093.1h0M626.5 2139.5h0M681.5 2099.3h0M663.1 2116.7h0M660.4 2133.4h0M627.3 2138.1h0M666.5 2116.0h0M682.4 2106.2h0M670.6 2100.5h0M665.4 2099.4h0M640.5 2135.3h0M666.7 2124.7h0M641.2 2130.4h0M625.6 2135.7h0M665.3 2115.1h0M690.6 2099.7h0M653.8 2118.6h0M626.0 2135.8h0M682.6 2103.4h0M666.5 2094.9h0M687.1 2102.6h0M672.5 2124.5h0M655.3 2122.3h0M641.3 2125.7h0M660.2 2102.0h0M629.7 2133.3h0M670.6 2123.4h0M666.2 2120.5h0M618.0 2140.7h0M634.7 2136.8h0M652.5 2116.3h0M684.8 2108.0h0M687.4 2106.1h0M669.3 2095.2h0M646.8 2123.6h0M656.4 2103.7h0M632.5 2129.2h0M640.1 2132.3h0M665.9 2130.2h0M672.5 2126.9h0M663.4 2101.2h0M664.2 2095.2h0M628.3 2132.6h0M629.3 2135.7h0M641.7 2128.7h0M634.1 2128.3h0M667.2 2111.5h0M638.3 2132.0h0M647.8 2131.1h0M657.4 2122.6h0M665.9 2108.4h0M644.0 2122.0h0M687.3 2085.9h0M667.6 2115.1h0M661.8 2131.4h0M626.6 2133.0h0M683.6 2102.7h0M659.2 2114.1h0M667.9 2106.6h0M676.4 2099.2h0M669.5 2091.4h0M650.9 2115.3h0M655.2 2127.3h0M644.0 2118.6h0M638.5 2129.1h0M667.1 2119.7h0M660.5 2119.5h0M666.5 2124.7h0M652.8 2114.4h0M667.5 2108.8h0M671.0 2089.8h0M671.3 2089.3h0M649.4 2119.1h0M637.3 2132.5h0M672.8 2122.2h0M664.8 2116.9h0M652.7 2117.5h0M654.3 2111.5h0M667.9 2086.5h0M631.8 2134.6h0M653.7 2121.1h0M668.6 2098.1h0M644.7 2134.0h0M643.8 2134.7h0M659.4 2128.2h0M664.8 2092.9h0M669.0 2086.4h0M671.8 2098.0h0M678.0 2112.2h0M668.0 2120.7h0M669.0 2112.8h0M663.1 2129.3h0M660.0 2129.2h0M681.8 2108.5h0M639.0 2125.1h0M669.6 2101.8h0M690.2 2087.8h0M630.0 2135.0h0M684.1 2108.5h0M670.8 2119.2h0M647.9 2134.8h0M675.5 2110.7h0M668.4 2114.6h0M657.6 2115.5h0M662.6 2128.1h0M674.6 2100.2h0M664.2 2130.3h0M643.3 2135.2h0M635.0 2129.4h0M653.0 2125.4h0M683.7 2110.8h0M642.4 2121.0h0M635.9 2126.5h0M673.7 2091.7h0M647.3 2124.5h0M664.1 2098.1h0M690.0 2095.6h0M666.0 2098.0h0M670.1 2114.9h0M651.7 2114.4h0M639.8 2131.7h0M661.5 2109.0h0M660.2 2099.6h0M646.5 2120.1h0M676.5 2109.1h0M662.8 2099.5h0M683.8 2109.3h0M644.1 2135.3h0M661.5 2105.3h0M649.8 2122.0h0M654.1 2119.9h0M658.5 2107.8h0M666.4 2113.7h0M656.8 2110.3h0M676.0 2087.2h0M680.0 2106.3h0M629.0 2133.6h0M670.4 2127.6h0M656.9 2123.6h0M675.9 2104.8h0M638.5 2132.1h0M666.0 2127.9h0M688.2 2105.9h0M641.4 2124.6h0M657.3 2105.3h0M665.0 2103.6h0M665.1 2095.4h0M657.0 2128.8h0M636.1 2125.4h0M661.0 2108.5h0M669.2 2099.5h0M647.5 2117.5h0M676.8 2091.0h0M646.2 2126.4h0M667.3 2090.4h0M667.9 2090.8h0M684.2 2086.4h0M660.7 2114.0h0M662.8 2130.9h0M662.8 2131.3h0M688.1 2098.8h0M666.1 2094.4h0M626.6 2135.5h0M665.7 2102.9h0M656.1 2110.5h0M633.1 2134.3h0M664.3 2095.9h0M658.6 2133.0h0M667.1 2099.4h0M676.4 2101.5h0M677.9 2103.8h0M674.0 2093.1h0M672.4 2126.6h0M660.4 2097.0h0M657.8 2112.0h0M662.4 2118.8h0M663.7 2118.0h0M659.2 2124.7h0M622.7 2138.4h0M669.7 2126.7h0M642.9 2132.3h0M666.3 2115.4h0M668.9 2121.3h0M673.8 2109.6h0M653.9 2113.7h0M650.0 2134.5h0M650.7 2111.5h0M660.7 2108.5h0M645.2 2132.9h0M684.4 2108.5h0M636.4 2126.3h0M646.4 2123.0h0M646.5 2124.0h0M647.0 2116.4h0M669.1 2125.5h0M634.6 2127.7h0M651.9 2134.3h0M670.8 2125.8h0M658.4 2109.9h0M670.5 2111.6h0M685.3 2085.5h0M673.6 2108.2h0M668.4 2097.7h0M649.3 2115.1h0M683.2 2096.3h0M648.1 2122.0h0M656.8 2106.3h0M674.2 2113.2h0M630.2 2134.3h0M670.1 2105.6h0M662.6 2123.6h0M646.7 2124.4h0M669.7 2107.6h0M676.5 2094.2h0M657.7 2100.7h0M659.1 2098.3h0M682.0 2100.2h0M657.8 2120.8h0M663.2 2097.5h0M655.7 2109.3h0M672.3 2108.3h0M647.8 2116.7h0M687.7 2107.2h0M669.0 2102.6h0M659.9 2097.4h0M671.8 2100.8h0M666.2 2088.9h0M667.0 2105.1h0M675.4 2088.9h0M631.1 2135.9h0M671.5 2106.8h0M629.4 2134.6h0M686.0 2106.4h0M655.3 2106.0h0M659.0 2132.9h0M672.2 2087.0h0M684.4 2100.5h0M669.4 2126.1h0M691.1 2099.3h0M676.9 2085.7h0M666.3 2101.2h0M627.0 2133.0h0M676.3 2105.7h0M659.6 2126.9h0M667.0 2119.7h0M660.7 2096.1h0M640.1 2121.6h0M668.8 2090.6h0M673.5 2114.9h0M638.5 2124.6h0M668.4 2119.1h0M673.6 2108.3h0M690.8 2091.2h0M690.1 2104.5h0M652.2 2123.1h0M612.4 2141.4h0M664.0 2114.9h0M672.0 2114.9h0M679.2 2106.7h0M663.4 2129.5h0M662.6 2107.6h0M647.0 2114.3h0M673.9 2100.4h0M650.4 2110.0h0M661.4 2096.3h0M638.6 2127.5h0M690.7 2094.9h0M653.3 2116.1h0M651.6 2132.7h0M642.8 2129.1h0M670.6 2113.9h0M654.0 2109.9h0M661.7 2108.3h0M670.7 2103.5h0M663.4 2131.6h0M663.2 2099.9h0M670.0 2091.3h0M677.6 2100.4h0M659.7 2101.9h0M672.0 2098.1h0M659.3 2108.5h0M639.9 2131.6h0M664.8 2124.4h0M645.9 2130.3h0M669.7 2108.4h0M655.8 2117.9h0M638.5 2123.3h0M662.7 2100.3h0M644.1 2135.1h0M665.9 2115.9h0M664.3 2123.7h0M658.1 2100.2h0M670.1 2108.2h0M671.6 2108.6h0M641.3 2129.6h0M666.9 2095.1h0M642.0 2131.7h0M651.5 2115.2h0M671.3 2090.1h0M665.6 2107.6h0M669.5 2112.4h0M663.0 2114.6h0M635.0 2128.9h0M660.8 2103.5h0M649.9 2114.1h0M674.0 2102.2h0M687.6 2105.8h0M652.4 2128.9h0M642.7 2133.8h0M668.3 2095.6h0M685.6 2096.7h0M677.5 2108.1h0M656.2 2119.6h0M687.6 2091.2h0M668.0 2087.8h0M654.0 2125.4h0M648.1 2124.3h0M676.8 2087.6h0M664.5 2121.4h0M666.1 2128.6h0M683.5 2101.0h0M683.6 2087.3h0M653.4 2115.7h0M658.5 2131.0h0M680.1 2103.1h0M649.4 2115.7h0M691.4 2098.8h0M660.0 2100.0h0M657.2 2133.1h0M649.0 2116.0h0M663.1 2111.2h0M657.2 2106.1h0M654.5 2119.3h0M633.3 2135.3h0M660.3 2097.8h0M661.0 2113.7h0M688.6 2096.6h0M659.1 2109.4h0M666.1 2088.5h0M671.6 2113.7h0M684.6 2107.2h0M640.1 2125.3h0M668.2 2099.2h0M670.2 2108.7h0M666.4 2126.1h0M671.4 2085.6h0M638.9 2122.6h0M653.0 2134.0h0M625.5 2137.1h0M688.1 2097.4h0M648.6 2135.2h0M688.5 2105.7h0M632.9 2131.7h0M663.3 2092.0h0M656.1 2124.3h0M667.9 2127.2h0M637.7 2136.3h0M671.9 2099.9h0M644.2 2133.1h0M679.2 2112.4h0M658.3 2102.8h0M653.1 2117.7h0M661.4 2107.0h0M661.8 2101.3h0M650.1 2127.6h0M651.9 2108.8h0M672.5 2100.5h0M691.2 2094.2h0M671.9 2129.1h0M655.1 2107.3h0M663.3 2123.7h0M680.3 2113.2h0M632.8 2129.2h0M671.4 2129.1h0M649.6 2115.2h0M681.8 2105.6h0M652.7 2111.3h0M668.0 2130.2h0M683.9 2088.8h0M666.7 2124.2h0M678.6 2111.2h0M659.8 2118.9h0M667.0 2111.9h0M683.8 2106.3h0M661.9 2110.0h0M670.8 2101.1h0M657.1 2128.0h0M659.8 2107.9h0M633.1 2131.0h0M672.2 2121.6h0M661.6 2108.1h0M665.5 2093.4h0M673.9 2094.2h0M643.9 2121.6h0M663.8 2099.8h0M667.1 2123.6h0M664.0 2108.8h0M691.0 2101.5h0M671.3 2091.0h0M667.6 2117.0h0M648.1 2135.2h0M660.5 2122.2h0M657.1 2111.2h0M636.6 2132.4h0M677.9 2099.4h0M648.4 2116.2h0M653.3 2131.1h0M644.6 2128.4h0M642.7 2132.0h0M687.3 2087.8h0M685.6 2096.4h0M640.9 2128.4h0M667.0 2117.4h0M675.3 2107.8h0M653.8 2133.4h0M651.3 2126.6h0M665.9 2113.8h0M668.6 2124.1h0M691.5 2099.6h0M645.6 2117.8h0M669.7 2106.8h0M664.6 2103.8h0M666.1 2122.6h0M650.4 2119.9h0M666.2 2128.8h0M659.8 2107.7h0M670.9 2112.3h0M632.8 2130.6h0M663.8 2131.7h0M668.3 2118.6h0M657.2 2121.9h0M680.9 2112.7h0M657.8 2112.4h0M651.9 2115.5h0M676.6 2106.2h0M663.8 2096.7h0M677.5 2099.7h0M651.1 2120.1h0M665.7 2095.4h0M644.5 2134.7h0M649.1 2134.1h0M673.6 2095.8h0M677.0 2115.0h0M684.2 2093.0h0M684.1 2104.1h0M686.1 2088.5h0M661.7 2121.3h0M673.2 2110.3h0M661.4 2120.4h0M659.0 2115.9h0M685.8 2104.8h0M653.6 2126.1h0M666.1 2122.8h0M670.1 2110.6h0M657.0 2114.3h0M670.9 2120.8h0M660.5 2133.4h0M669.8 2121.6h0M649.5 2118.8h0M675.2 2094.0h0M670.2 2123.0h0M672.4 2096.6h0M672.8 2123.1h0M676.3 2114.6h0M662.7 2124.1h0M665.3 2121.0h0M625.2 2134.7h0M649.9 2119.1h0M629.8 2135.0h0M652.2 2133.8h0M652.8 2132.6h0M659.1 2100.3h0M658.0 2100.8h0M670.8 2099.7h0M652.4 2128.4h0M674.0 2111.0h0M679.5 2108.6h0M689.2 2095.8h0M672.0 2105.3h0M654.5 2128.8h0M650.2 2123.9h0M622.6 2136.8h0M641.2 2131.9h0M633.1 2129.6h0M683.9 2094.7h0M661.9 2108.4h0M645.3 2135.1h0M657.9 2107.0h0M667.7 2088.0h0M672.0 2099.0h0M633.4 2129.2h0M667.6 2115.1h0M648.9 2127.2h0M638.1 2128.6h0M678.0 2096.8h0M658.0 2103.5h0M670.4 2102.4h0M674.5 2089.0h0M685.5 2097.1h0M662.2 2097.9h0M669.8 2095.4h0M656.9 2117.0h0M650.5 2111.1h0M671.2 2103.5h0M646.7 2114.7h0M626.2 2138.7h0M664.4 2111.6h0M667.5 2126.5h0M654.2 2116.8h0M654.2 2122.9h0M671.5 2096.3h0M668.5 2110.8h0M640.4 2129.6h0M646.8 2135.2h0M652.5 2115.5h0M687.1 2105.4h0M649.8 2121.6h0M662.7 2124.0h0M660.2 2131.1h0M661.2 2115.8h0M655.9 2106.2h0M654.2 2124.6h0M651.1 2119.8h0M617.5 2138.5h0M662.6 2131.1h0M659.2 2107.4h0M648.8 2133.6h0M664.2 2124.7h0M671.6 2093.8h0M653.4 2131.7h0M665.6 2109.3h0M675.7 2094.6h0M647.6 2124.2h0M675.2 2091.9h0M671.8 2094.4h0M643.5 2118.1h0M647.5 2114.5h0M639.4 2124.7h0M665.2 2102.8h0M681.6 2091.8h0M660.6 2127.2h0M663.6 2120.8h0M667.2 2099.7h0M673.1 2096.2h0M667.8 2090.8h0M681.0 2095.8h0M689.5 2097.5h0M675.0 2086.9h0M690.3 2093.0h0M648.2 2132.5h0M660.0 2102.0h0M647.7 2115.1h0M635.6 2126.8h0M635.9 2132.8h0M669.7 2111.4h0M678.0 2085.4h0M648.3 2121.7h0M659.9 2107.5h0M665.8 2101.8h0M678.5 2093.5h0M648.1 2123.0h0M648.2 2131.3h0M640.5 2134.0h0M655.5 2107.9h0M655.3 2133.4h0M643.0 2126.8h0M662.7 2102.5h0M671.2 2122.2h0M683.9 2098.1h0M662.9 2131.5h0M683.0 2109.3h0M671.4 2126.1h0M653.2 2116.7h0M634.8 2130.3h0M659.2 2115.8h0M663.5 2099.4h0M668.1 2106.9h0M673.7 2093.2h0M659.8 2107.5h0M669.7 2126.1h0M670.0 2086.5h0M670.1 2089.8h0M641.1 2135.8h0M676.7 2100.9h0M645.8 2125.0h0M650.2 2127.3h0M651.1 2132.3h0M675.5 2101.6h0M679.9 2103.8h0M633.1 2132.0h0M651.8 2132.6h0M660.4 2098.9h0M669.5 2092.4h0M631.8 2130.3h0M674.4 2118.2h0M664.0 2132.1h0M682.4 2090.7h0M670.9 2097.7h0M641.2 2135.8h0M656.4 2129.2h0M638.2 2123.3h0M679.0 2098.5h0M669.6 2124.5h0M640.0 2131.9h0M666.3 2114.2h0M660.5 2105.7h0M660.3 2116.4h0M647.8 2113.5h0M665.8 2099.9h0M657.9 2105.3h0M641.8 2134.2h0M656.3 2123.9h0M684.3 2088.9h0M651.2 2124.7h0M687.7 2103.3h0M665.2 2107.9h0M627.6 2137.1h0M668.4 2130.6h0M623.8 2138.1h0M679.8 2086.4h0M667.8 2114.1h0M669.3 2111.9h0M658.3 2108.1h0M640.3 2121.8h0M668.6 2086.4h0M673.5 2096.4h0M654.4 2119.3h0M667.4 2126.8h0M662.8 2127.9h0M625.5 2134.7h0M711.4 2115.1h0M711.3 2111.0h0M707.5 2114.2h0M700.9 2108.5h0M704.3 2122.1h0M691.5 2120.6h0M706.2 2117.5h0M677.3 2125.3h0M691.7 2111.0h0M698.5 2109.9h0M705.9 2124.3h0M686.2 2123.9h0M708.8 2122.5h0M704.1 2125.5h0M676.9 2120.1h0M709.1 2122.6h0M678.4 2121.1h0M706.3 2119.8h0M690.1 2117.2h0M702.2 2108.6h0M677.7 2120.2h0M707.6 2115.6h0M704.7 2112.9h0M693.8 2116.6h0M694.4 2110.9h0M682.2 2124.6h0M702.8 2113.8h0M694.8 2124.5h0M698.4 2117.9h0M698.4 2123.3h0M707.0 2113.2h0M689.2 2122.9h0M698.8 2119.9h0M683.3 2119.8h0M679.0 2118.9h0M706.8 2112.8h0M708.5 2111.9h0M696.5 2112.5h0M697.5 2113.8h0M710.0 2113.3h0M698.1 2118.4h0M679.6 2114.6h0M679.0 2126.4h0M704.5 2089.7h0M711.5 2089.7h0M717.8 2085.7h0M716.4 2089.0h0M730.4 2097.4h0M740.0 2101.0h0M716.4 2104.5h0M714.3 2104.2h0M698.2 2099.5h0M705.2 2102.3h0M725.5 2129.0h0M713.6 2128.0h0M738.2 2115.4h0M730.4 2117.1h0M726.9 2110.1h0M731.1 2110.1h0M720.6 2112.2h0M723.4 2117.1h0" fill="none" stroke="#0000c0" stroke-width="5.5" stroke-linecap="round"/>
<path d="M89.7 1522.5V2172.3H993" fill="none" stroke="#2e2e2e" stroke-width="2.9"/>
<line x1="195.3" y1="1804.3" x2="166.6" y2="1852.3" stroke="#242021" stroke-width="2.9"/>
<path d="M161.2 1861.4L163.2 1847.2L166.6 1852.3L172.7 1852.9Z" fill="#242021"/>
<line x1="228.1" y1="2043.0" x2="254.2" y2="1985.5" stroke="#242021" stroke-width="2.9"/>
<path d="M258.6 1975.8L258.2 1990.1L254.2 1985.5L248.1 1985.5Z" fill="#242021"/>
<line x1="497.5" y1="1864.1" x2="396.0" y2="1952.7" stroke="#242021" stroke-width="2.9"/>
<path d="M388.0 1959.7L394.3 1946.9L396.0 1952.7L401.6 1955.2Z" fill="#242021"/>
<line x1="645.5" y1="2002.7" x2="669.2" y2="2049.7" stroke="#242021" stroke-width="2.9"/>
<path d="M674.0 2059.2L663.1 2049.9L669.2 2049.7L673.0 2044.9Z" fill="#242021"/>
<line x1="414.4" y1="2140.1" x2="557.0" y2="2126.0" stroke="#242021" stroke-width="2.9"/>
<path d="M567.5 2125.0L554.9 2131.8L557.0 2126.0L553.8 2120.8Z" fill="#242021"/>
<line x1="781.6" y1="2140.6" x2="660.6" y2="2132.4" stroke="#242021" stroke-width="2.9"/>
<path d="M650.0 2131.7L663.5 2127.1L660.6 2132.4L662.8 2138.1Z" fill="#242021"/>
<text x="191.2" y="1798.3" font-size="29.2">MSP5</text>
<text x="192.0" y="2072.2" font-size="29.2">AMA1</text>
<text x="494" y="1857.8" font-size="29.2">DBP</text>
<text x="605.6" y="1992.4" font-size="29.2">H2A</text>
<text x="345.4" y="2152.4" font-size="29.2">CRT</text>
<text x="785.3" y="2153" font-size="29.2">MDR1</text>
</g>
</svg></body></html>
